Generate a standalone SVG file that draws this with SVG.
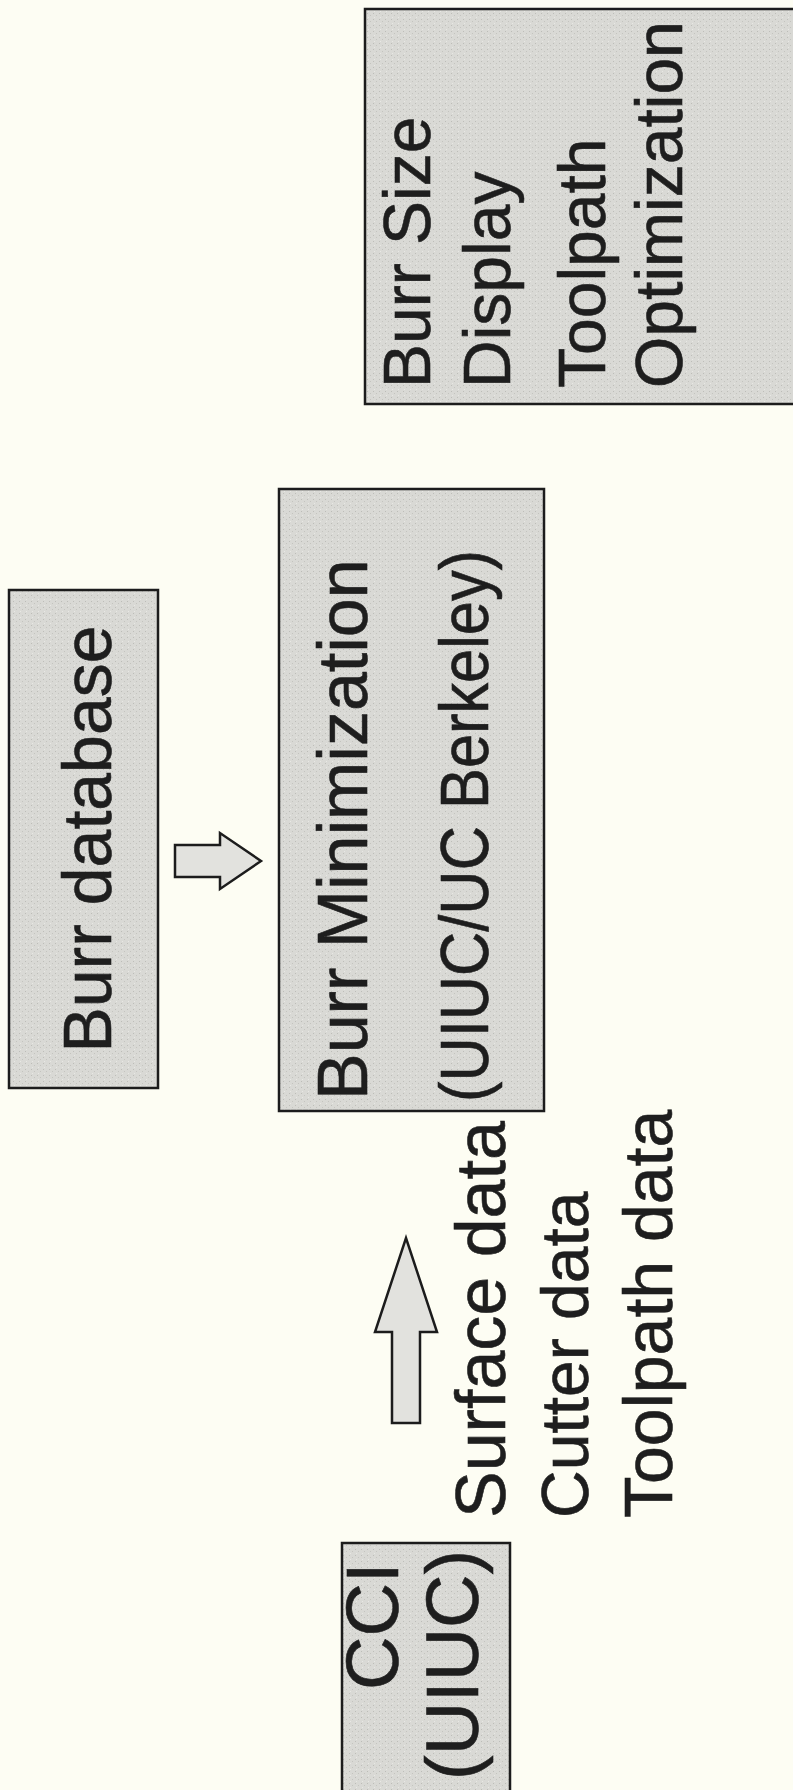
<svg xmlns="http://www.w3.org/2000/svg" width="793" height="1790" viewBox="0 0 793 1790">
<defs>
<pattern id="speckle" width="6" height="6" patternUnits="userSpaceOnUse">
<rect width="6" height="6" fill="#d9d9d5"/>
<rect x="1" y="1" width="1" height="1" fill="#bdbdb8"/>
<rect x="4" y="3" width="1" height="1" fill="#c4c4bf"/>
<rect x="2" y="5" width="1" height="1" fill="#e8e8e4"/>
</pattern>
</defs>
<style>
.box{fill:url(#speckle);stroke:#1c1c1c;stroke-width:2.5}
.arrow{fill:#e2e2de;stroke:#1c1c1c;stroke-width:2.5;stroke-linejoin:miter}
.t{font-family:"Liberation Sans",Arial,Helvetica,sans-serif;fill:#1e1e1e;stroke:#1e1e1e;stroke-width:0.6}
.s66{font-size:66px}
.s68{font-size:68px}
.s70{font-size:70px}
.s74{font-size:74px}
</style>
<rect x="0" y="0" width="793" height="1790" fill="#fdfdf3"/>
<g id="burr-database">
<rect class="box" x="9" y="590" width="149" height="498"/>
<text class="t s68" text-anchor="middle" transform="translate(111,839) rotate(-90)">Burr database</text>
</g>
<g id="burr-minimization">
<rect class="box" x="279" y="489" width="265" height="622"/>
<text class="t s70" transform="translate(367,1100) rotate(-90)">Burr Minimization</text>
<text class="t s68" textLength="552" lengthAdjust="spacingAndGlyphs" transform="translate(488,1102) rotate(-90)">(UIUC/UC Berkeley)</text>
</g>
<g id="output">
<rect class="box" x="365" y="9" width="440" height="395"/>
<text class="t s66" transform="translate(430,388) rotate(-90)">Burr Size</text>
<text class="t s66" transform="translate(510,388) rotate(-90)">Display</text>
<text class="t s66" transform="translate(605,388) rotate(-90)">Toolpath</text>
<text class="t s66" transform="translate(682,388) rotate(-90)">Optimization</text>
</g>
<g id="cci">
<rect class="box" x="342" y="1543" width="168" height="260"/>
<text class="t s74" transform="translate(398,1690) rotate(-90)">CCI</text>
<text class="t s74" transform="translate(478,1780) rotate(-90)">(UIUC)</text>
</g>
<g id="data-labels">
<text class="t s70" transform="translate(505,1518) rotate(-90)">Surface data</text>
<text class="t s66" transform="translate(588,1518) rotate(-90)">Cutter data</text>
<text class="t s68" transform="translate(672,1518) rotate(-90)">Toolpath data</text>
</g>
<g id="connectors">
<polygon class="arrow" points="175,845 220,845 220,833 261,861 220,889 220,877 175,877"/>
<polygon class="arrow" points="392,1423 420,1423 420,1332 437,1332 406,1238 375,1332 392,1332"/>
</g>
</svg>
